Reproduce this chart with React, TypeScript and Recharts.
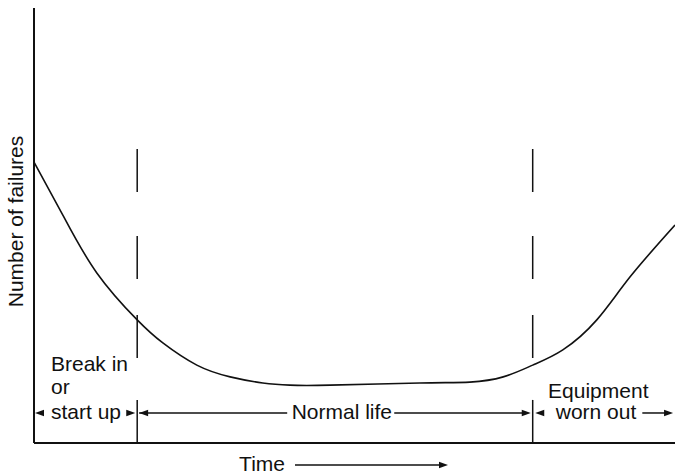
import React from "react";
import {
  ComposedChart,
  Line,
  Scatter,
  XAxis,
  YAxis,
  ReferenceLine,
  Label,
} from "recharts";

// bathtub curve, time and failures on a 0..100 scale
const timeUnits = [0, 4.5, 9.8, 16.1, 20.1, 25.4, 30.6, 35.7, 39.9, 46.2, 60.2, 68.0, 73.2, 77.8, 82.5, 87.8, 93.0, 100];
const failures = [64.6, 52.4, 39.1, 28.3, 23.0, 17.9, 15.2, 13.8, 13.3, 13.3, 13.8, 14.0, 15.2, 17.9, 21.4, 28.3, 38.2, 50.1];

// phase boundaries (break in -> normal life -> worn out)
const phaseBounds = [16.1, 77.8];
const dashTop = 67.6;
const dashBottom = 19.5;
const tickTop = 9.9;

// span arrows
const arrowLevel = 6.9;
const shaftStarts = [16.4, 56.2, 94.9];
const shaftEnds = [39.5, 77.1, 98.9];
const headTimes = [0.16, 15.8, 16.4, 77.5, 78.2, 99.7];
const headDirs = [-1, 1, -1, 1, -1, 1];

// phase labels
const labelTexts = ["Break in", "or", "start up", "Normal life", "Equipment", "worn out"];
const labelTimes = [2.65, 2.65, 2.65, 40.2, 80.2, 81.4];
const labelLevels = [16.6, 11.3, 5.5, 5.5, 10.3, 5.5];

const curveData = timeUnits.map((t, i) => ({ t, f: failures[i] }));
const headData = headTimes.map((t, i) => ({ t, f: arrowLevel, dir: headDirs[i] }));
const labelData = labelTimes.map((t, i) => ({ t, f: labelLevels[i], text: labelTexts[i] }));

const INK = "#111";
const FONT = "'Liberation Sans', Arial, Helvetica, sans-serif";
const FS = 21;

const ArrowHead = (props: any) => {
  const { cx, cy, payload } = props;
  if (cx == null || cy == null) return null;
  const d = payload.dir;
  const len = 9;
  const half = 3.2;
  return (
    <polygon
      points={`${cx},${cy} ${cx - d * len},${cy - half} ${cx - d * len},${cy + half}`}
      fill={INK}
    />
  );
};

const PhaseText = (props: any) => {
  const { cx, cy, payload } = props;
  if (cx == null || cy == null) return null;
  return (
    <text x={cx} y={cy} fill={INK} fontSize={FS} fontFamily={FONT} textAnchor="start">
      {payload.text}
    </text>
  );
};

const TimeLabel = (props: any) => {
  const vb = props.viewBox || { x: 34, y: 443, width: 641, height: 33 };
  const textEnd = vb.x + 251;
  const arrowY = vb.y + 22;
  const x0 = vb.x + 261;
  const x1 = vb.x + 414;
  return (
    <g>
      <text x={textEnd} y={vb.y + 28} textAnchor="end" fill={INK} fontSize={FS} fontFamily={FONT}>
        Time
      </text>
      <line x1={x0} y1={arrowY} x2={x1 - 8} y2={arrowY} stroke={INK} strokeWidth={1.5} />
      <polygon points={`${x1},${arrowY} ${x1 - 9},${arrowY - 3.2} ${x1 - 9},${arrowY + 3.2}`} fill={INK} />
    </g>
  );
};

const FailLabel = (props: any) => {
  const vb = props.viewBox || { x: 0, y: 8, width: 34, height: 435 };
  const x = vb.x + 23;
  const y = vb.y + vb.height / 2 - 4;
  return (
    <text
      x={x}
      y={y}
      transform={`rotate(-90, ${x}, ${y})`}
      textAnchor="middle"
      fill={INK}
      fontSize={FS}
      fontFamily={FONT}
    >
      Number of failures
    </text>
  );
};

export default function App() {
  return (
    <div style={{ position: "absolute", left: 0, top: 0, background: "#fff" }}>
      <ComposedChart width={675} height={476} margin={{ top: 8, right: 0, bottom: 0, left: 0 }}>
        <XAxis
          type="number"
          dataKey="t"
          domain={[0, 100]}
          tick={false}
          tickLine={false}
          height={33}
          axisLine={{ stroke: INK, strokeWidth: 2 }}
        >
          <Label content={TimeLabel} />
        </XAxis>
        <YAxis
          type="number"
          dataKey="f"
          domain={[0, 100]}
          tick={false}
          tickLine={false}
          width={34}
          axisLine={{ stroke: INK, strokeWidth: 2 }}
        >
          <Label content={FailLabel} />
        </YAxis>

        {phaseBounds.map((b) => (
          <ReferenceLine
            key={`dash-${b}`}
            segment={[{ x: b, y: dashTop }, { x: b, y: dashBottom }]}
            stroke={INK}
            strokeWidth={1.5}
            strokeDasharray="43 44 43 36 43"
          />
        ))}
        {phaseBounds.map((b) => (
          <ReferenceLine
            key={`tick-${b}`}
            segment={[{ x: b, y: tickTop }, { x: b, y: 0 }]}
            stroke={INK}
            strokeWidth={1.5}
          />
        ))}
        {shaftStarts.map((s, i) => (
          <ReferenceLine
            key={`shaft-${i}`}
            segment={[{ x: s, y: arrowLevel }, { x: shaftEnds[i], y: arrowLevel }]}
            stroke={INK}
            strokeWidth={1.5}
          />
        ))}

        <Line
          data={curveData}
          dataKey="f"
          type="natural"
          stroke={INK}
          strokeWidth={1.6}
          dot={false}
          activeDot={false}
          isAnimationActive={false}
        />
        <Scatter data={headData} dataKey="f" shape={ArrowHead} isAnimationActive={false} />
        <Scatter data={labelData} dataKey="f" shape={PhaseText} isAnimationActive={false} />
      </ComposedChart>
    </div>
  );
}
